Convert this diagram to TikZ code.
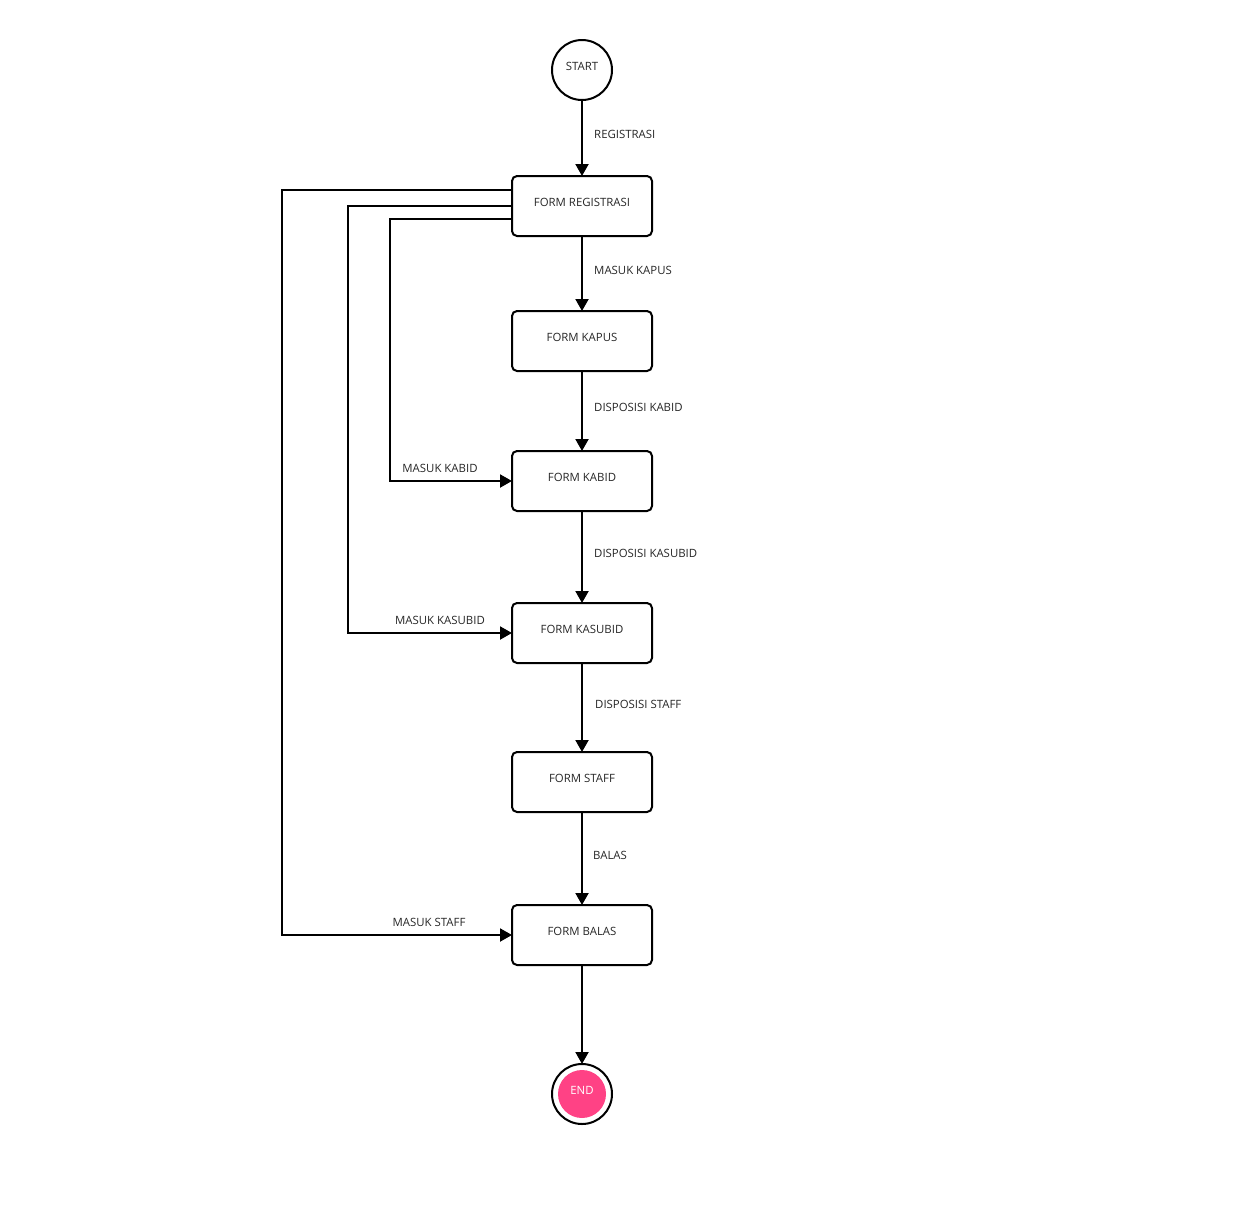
\documentclass[tikz,border=0pt]{standalone}
\usepackage{fontspec}
\setmainfont{Open Sans}
\usetikzlibrary{arrows.meta}
\definecolor{endpink}{HTML}{FF4285}
\begin{document}
\begin{tikzpicture}[x=1pt,y=-1pt,
  every node/.style={font=\fontsize{11.4}{13}\selectfont, text=black!85},
  formbox/.style={draw, line width=2pt, rounded corners=5pt, minimum width=140pt, minimum height=60pt, inner sep=0pt},
  boxtext/.style={font=\fontsize{11.4}{13}\selectfont, text=black!85},
  flow/.style={line width=2pt, shorten >=-1pt, -{Triangle[length=12pt,width=13pt]}},
  elabel/.style={anchor=west, inner sep=0pt},
  llabel/.style={inner sep=0pt}]
\useasboundingbox (0,0) rectangle (1235,1224);
\node[draw, circle, line width=2pt, minimum size=60pt, inner sep=0pt] (start) at (582,70) {};
\node[boxtext] at (582,66) {START};
\node[formbox] (reg) at (582,206) {};
\node[boxtext] at (582,202) {FORM REGISTRASI};
\node[formbox] (kapus) at (582,341) {};
\node[boxtext] at (582,337) {FORM KAPUS};
\node[formbox] (kabid) at (582,481) {};
\node[boxtext] at (582,477) {FORM KABID};
\node[formbox] (kasubid) at (582,633) {};
\node[boxtext] at (582,629) {FORM KASUBID};
\node[formbox] (staff) at (582,782) {};
\node[boxtext] at (582,778) {FORM STAFF};
\node[formbox] (balas) at (582,935) {};
\node[boxtext] at (582,931) {FORM BALAS};
\node[draw, circle, line width=2pt, minimum size=60pt, inner sep=0pt] (end) at (582,1094) {};
\node[circle, fill=endpink, minimum size=48pt, inner sep=0pt] (endin) at (582,1094) {};
\node[text=white, font=\fontsize{11.4}{13}\selectfont] at (582,1090) {END};

\draw[flow] (start) -- (reg);
\node[elabel] at (594,134) {REGISTRASI};
\draw[flow] (reg) -- (kapus);
\node[elabel] at (594,270) {MASUK KAPUS};
\draw[flow] (kapus) -- (kabid);
\node[elabel] at (594,407) {DISPOSISI KABID};
\draw[flow] (kabid) -- (kasubid);
\node[elabel] at (594,553) {DISPOSISI KASUBID};
\draw[flow] (kasubid) -- (staff);
\node[elabel] at (595,704) {DISPOSISI STAFF};
\draw[flow] (staff) -- (balas);
\node[elabel] at (593,855) {BALAS};
\draw[flow] (balas) -- (end);

\draw[flow] (reg.west |- 0,190) -- (282,190) -- (282,935) -- (balas.west);
\node[llabel] at (429,922) {MASUK STAFF};
\draw[flow] (reg.west |- 0,206) -- (348,206) -- (348,633) -- (kasubid.west);
\node[llabel] at (440,620) {MASUK KASUBID};
\draw[flow] (reg.west |- 0,219) -- (390,219) -- (390,481) -- (kabid.west);
\node[llabel] at (440,468) {MASUK KABID};
\end{tikzpicture}
\end{document}
